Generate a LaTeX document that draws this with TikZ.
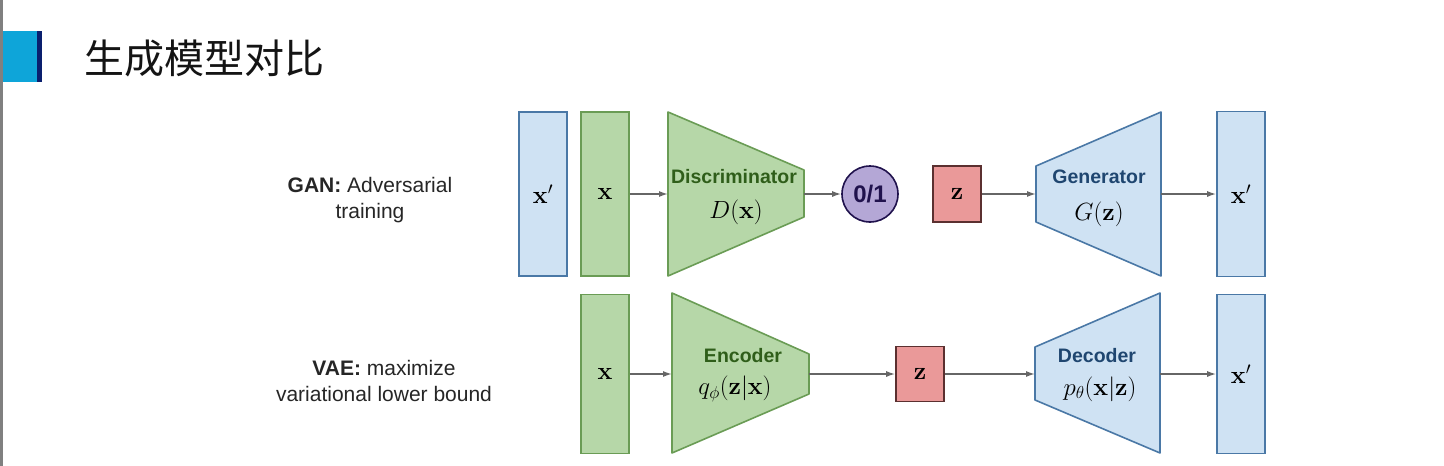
\documentclass[tikz,border=0pt]{standalone}
\usepackage[no-math]{fontspec}
\setmainfont{Liberation Sans}
\newfontfamily\cjk{Noto Sans CJK SC}
\usetikzlibrary{arrows.meta}
\definecolor{gfill}{HTML}{B6D7A8}
\definecolor{gline}{HTML}{6A9C55}
\definecolor{gtext}{HTML}{2F5E1A}
\definecolor{bfill}{HTML}{CFE2F3}
\definecolor{bline}{HTML}{4A78A6}
\definecolor{btext}{HTML}{1F4670}
\definecolor{rfill}{HTML}{EA9999}
\definecolor{rline}{HTML}{5B3030}
\definecolor{pfill}{HTML}{B4A7D6}
\definecolor{pline}{HTML}{20124D}
\definecolor{arr}{HTML}{666666}
\definecolor{cyanbar}{HTML}{0EA5D9}
\definecolor{navybar}{HTML}{0A1F6E}
\tikzset{
  databox/.style={draw, line width=1.6pt, minimum width=48pt, inner sep=0pt, font=\fontsize{26}{30}\selectfont},
  gbox/.style={databox, fill=gfill, draw=gline},
  bbox/.style={databox, fill=bfill, draw=bline},
  zbox/.style={databox, fill=rfill, draw=rline},
  gnet/.style={fill=gfill, draw=gline, line width=1.6pt, line join=round},
  bnet/.style={fill=bfill, draw=bline, line width=1.6pt, line join=round},
  netname/.style={font=\fontsize{19.5}{22}\selectfont\bfseries, inner sep=1pt},
  netfun/.style={font=\fontsize{26}{30}\selectfont, inner sep=1pt},
  flow/.style={draw=arr, line width=1.5pt, -{Latex[length=9pt,width=6pt]}},
  lbl/.style={font=\fontsize{21}{26}\selectfont, align=center, text=black!85}
}
\begin{document}
\begin{tikzpicture}[x=1pt,y=-1pt]
\useasboundingbox (0,0) rectangle (1444,466);
\fill[white] (0,0) rectangle (1444,466);
\fill[gray] (0,0) rectangle (2.5,466);
\fill[cyanbar] (2.5,31) rectangle (37,82);
\fill[navybar] (37,31) rectangle (42,82);
\node[anchor=west, inner sep=0pt, font=\cjk\fontsize{40}{44}\selectfont, text=black!92] (title) at (84,58) {生成模型对比};

% GAN row
\node[lbl] (ganlbl) at (370,200) {\textbf{GAN:} Adversarial\\training};
\node[bbox, minimum height=164pt] (xp1) at (543,194) {$\mathbf{x}'$};
\node[gbox, minimum height=164pt] (x1) at (605,194) {$\mathbf{x}$};
\draw[gnet] (668,112) -- (804,170) -- (804,217) -- (668,276) -- cycle;
\coordinate (dl) at (668,194);
\coordinate (dr) at (804,194);
\node[netname, text=gtext] (dname) at (734,177) {Discriminator};
\node[netfun] (dfun) at (736,212) {$D(\mathbf{x})$};
\node[circle, draw=pline, fill=pfill, line width=1.6pt, minimum size=56pt, inner sep=0pt,
      font=\fontsize{24}{28}\selectfont\bfseries, text=pline] (out) at (870,194) {0/1};
\node[zbox, minimum height=56pt] (z1) at (957,194) {$\mathbf{z}$};
\draw[bnet] (1036,166) -- (1161,112) -- (1161,276) -- (1036,222) -- cycle;
\coordinate (gl) at (1036,194);
\coordinate (gr) at (1161,194);
\node[netname, text=btext] (gname) at (1099,177) {Generator};
\node[netfun] (gfun) at (1099,214) {$G(\mathbf{z})$};
\node[bbox, minimum height=165pt] (xp2) at (1241,194) {$\mathbf{x}'$};

\draw[flow] (x1.east) -- (dl);
\draw[flow] (dr) -- (out.west);
\draw[flow] (z1.east) -- (gl);
\draw[flow] (gr) -- (xp2.west);

% VAE row
\node[lbl] (vaelbl) at (384,381) {\textbf{VAE:} maximize\\variational lower bound};
\node[gbox, minimum height=159pt] (x2) at (605,374) {$\mathbf{x}$};
\draw[gnet] (672,293) -- (809,354) -- (809,394) -- (672,453) -- cycle;
\coordinate (el) at (672,374);
\coordinate (er) at (809,374);
\node[netname, text=gtext] (ename) at (743,356) {Encoder};
\node[netfun] (efun) at (735,389) {$q_\phi(\mathbf{z}|\mathbf{x})$};
\node[zbox, minimum height=55pt] (z2) at (920,374) {$\mathbf{z}$};
\draw[bnet] (1035,347) -- (1160,293) -- (1160,453) -- (1035,400) -- cycle;
\coordinate (decl) at (1035,374);
\coordinate (decr) at (1160,374);
\node[netname, text=btext] (decname) at (1097,356) {Decoder};
\node[netfun] (decfun) at (1100,389) {$p_\theta(\mathbf{x}|\mathbf{z})$};
\node[bbox, minimum height=159pt] (xp3) at (1241,374) {$\mathbf{x}'$};

\draw[flow] (x2.east) -- (el);
\draw[flow] (er) -- (z2.west);
\draw[flow] (z2.east) -- (decl);
\draw[flow] (decr) -- (xp3.west);
\end{tikzpicture}
\end{document}
